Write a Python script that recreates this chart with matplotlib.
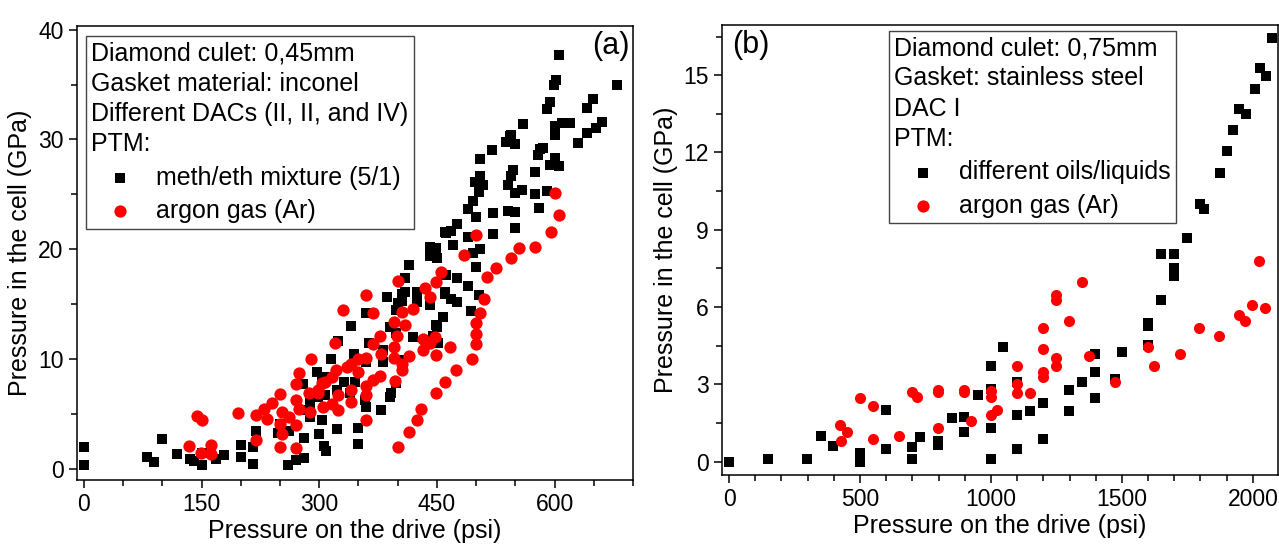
import matplotlib
matplotlib.use('Agg')
import matplotlib.pyplot as plt
import numpy as np
from matplotlib.ticker import MultipleLocator

plt.rcParams['font.family'] = ['Liberation Sans', 'DejaVu Sans']

# (a) culet 0,45mm - (pressure on drive psi, pressure in cell GPa)
a_meth = np.array([
    (0, 2.0), (0, 0.4), (81, 1.1), (90, 0.6), (100, 2.7), (119, 1.4), (135, 0.9), (141, 0.75),
    (150, 1.5), (150, 0.4), (169, 0.9), (179, 1.3), (200, 2.2), (200, 1.1), (215, 0.5), (215, 2.0),
    (220, 3.5), (248, 3.3), (250, 4.1), (262, 3.5), (260, 0.35), (270, 0.8), (280, 1.0), (280, 2.8),
    (300, 3.2), (306, 2.1), (309, 1.6), (323, 3.6), (350, 3.7), (350, 2.3),
    (279, 5.35), (288, 6.0), (288, 4.75), (303, 4.45), (299, 6.55), (307, 6.7), (279, 7.7), (297, 8.8),
    (303, 8.4), (313, 8.4), (315, 10.0), (323, 7.2), (332, 7.9), (339, 6.9), (345, 7.9), (344, 10.5),
    (324, 11.7), (341, 13.0), (358, 6.3), (359, 5.65), (360, 9.7), (364, 11.5), (359, 14.2), (379, 5.35),
    (381, 10.8), (381, 9.7), (387, 15.7), (390, 6.55), (392, 6.9), (390, 12.9), (398, 7.8), (398, 12.4),
    (398, 14.5), (401, 15.1), (405, 15.3), (406, 15.9), (407, 9.9), (409, 16.1), (409, 17.4), (415, 18.6),
    (420, 12.0), (424, 16.1), (425, 15.8), (424, 15.2), (441, 20.2), (441, 19.4), (441, 14.9), (445, 12.1),
    (449, 13.1), (450, 12.9), (450, 19.2), (449, 20.1), (452, 11.5), (458, 13.8), (460, 16.1), (460, 15.9),
    (460, 21.6), (462, 21.5), (462, 17.7), (468, 15.5), (468, 21.7), (470, 20.4), (475, 17.4), (475, 15.2),
    (475, 22.3), (489, 21.1), (490, 23.7), (490, 16.7), (494, 14.4), (496, 24.4), (496, 19.7), (498, 26.1),
    (500, 22.9), (500, 18.4), (503, 25.2), (503, 15.8), (505, 28.2), (505, 26.7), (505, 20.0), (509, 25.9),
    (520, 29.0), (521, 23.3), (522, 21.4), (538, 29.8), (541, 25.9), (540, 23.5), (543, 30.3), (544, 26.7),
    (545, 30.4), (547, 27.2), (549, 29.6), (549, 25.1), (549, 21.9), (550, 23.4), (558, 25.4), (560, 31.4),
    (575, 27.0), (575, 25.0), (579, 28.6), (580, 23.8), (581, 29.1), (585, 29.2), (590, 25.3), (590, 32.8),
    (594, 33.4), (594, 27.7), (599, 35.0), (600, 30.4), (600, 28.3), (600, 31.2), (602, 35.4), (605, 37.7),
    (605, 27.6), (609, 31.5), (619, 31.5), (630, 29.7), (641, 30.6), (641, 32.9), (649, 33.7), (653, 31.0),
    (660, 31.6), (680, 35.0)])

a_argon = np.array([
    (144, 4.8), (150, 4.5), (134, 2.1), (149, 1.5), (162, 2.2), (162, 1.4), (197, 5.1), (219, 4.95),
    (229, 5.5), (233, 4.6), (240, 6.0), (250, 6.8), (219, 2.6), (250, 2.0), (270, 1.9), (252, 5.2),
    (250, 4.1), (252, 3.2), (262, 4.75), (270, 4.0), (270, 6.25), (270, 7.7), (274, 8.7), (289, 10.0),
    (287, 6.9), (288, 5.2), (274, 5.5), (298, 7.2), (304, 7.8), (299, 6.9), (305, 5.65), (316, 5.95),
    (324, 5.35), (324, 6.7), (307, 7.9), (316, 8.4), (322, 9.0), (335, 9.3), (341, 9.6), (350, 10.0),
    (360, 10.1), (350, 8.8), (341, 7.2), (341, 6.1), (320, 11.5), (330, 14.5), (359, 15.8), (369, 14.2),
    (359, 6.7), (359, 7.6), (369, 8.1), (359, 4.5), (377, 8.5), (369, 11.4), (377, 12.1), (379, 10.5),
    (395, 13.35), (399, 12.1), (395, 11.1), (395, 10.1), (405, 14.3), (409, 13.1), (400, 17.1), (415, 10.25),
    (405, 9.6), (405, 9.0), (396, 8.0), (420, 14.6), (435, 16.5), (441, 15.7), (449, 17.0), (455, 17.9),
    (432, 11.85), (432, 10.8), (441, 11.45), (448, 12.0), (467, 11.1), (449, 10.4), (474, 9.0), (460, 7.9),
    (449, 6.9), (430, 5.5), (425, 4.45), (415, 3.4), (400, 2.0), (495, 10.0), (500, 11.4), (500, 12.3),
    (500, 13.3), (505, 14.2), (510, 15.5), (514, 17.5), (525, 18.3), (545, 19.25), (555, 20.15), (575, 20.2),
    (595, 21.6), (605, 23.1), (600, 25.1), (500, 21.3), (485, 19.5)])

# (b) culet 0,75mm
b_oils = np.array([
    (0, 0), (150, 0.09), (299, 0.09), (350, 1.0), (398, 0.6), (500, 0.33), (500, 0.0), (599, 2.0),
    (599, 0.5), (698, 0.58), (698, 0.09), (729, 0.97), (799, 0.78), (799, 0.65), (850, 1.68), (898, 1.71),
    (898, 1.14), (949, 2.59), (999, 3.69), (999, 2.8), (999, 1.3), (999, 0.09), (1045, 4.44), (1098, 3.1),
    (1098, 1.79), (1098, 0.49), (1149, 1.98), (1197, 2.29), (1197, 0.88), (1298, 2.78), (1298, 1.98),
    (1349, 3.08), (1398, 4.18), (1398, 3.49), (1398, 2.48), (1474, 3.2), (1500, 4.27), (1599, 5.37),
    (1599, 5.27), (1599, 4.53), (1649, 6.28), (1698, 7.2), (1699, 7.5), (1649, 8.06), (1699, 8.06),
    (1747, 8.67), (1798, 10.0), (1815, 9.8), (1874, 11.19), (1900, 12.07), (1925, 12.87), (1948, 13.68),
    (1973, 13.48), (2009, 14.46), (2029, 15.27), (2049, 14.97), (2074, 16.46)])

b_argon = np.array([
    (424, 1.4), (449, 1.16), (427, 0.78), (500, 2.48), (548, 2.17), (548, 0.88), (649, 1.0), (698, 2.69),
    (716, 2.5), (799, 2.78), (799, 2.7), (799, 1.3), (898, 2.76), (898, 2.7), (924, 1.58), (999, 2.72),
    (999, 2.5), (999, 1.79), (1022, 2.0), (1098, 3.69), (1098, 3.02), (1098, 2.68), (1149, 2.68),
    (1197, 5.18), (1197, 4.37), (1197, 3.49), (1197, 3.28), (1248, 6.47), (1248, 6.28), (1248, 4.01),
    (1248, 3.69), (1298, 5.47), (1349, 6.96), (1374, 4.08), (1474, 3.07), (1599, 4.46), (1624, 3.69),
    (1722, 4.17), (1796, 5.18), (1872, 4.88), (1947, 5.69), (1970, 5.47), (1997, 6.08), (2023, 7.8),
    (2048, 5.98)])

a_title = "Diamond culet: 0,45mm\nGasket material: inconel\nDifferent DACs (II, II, and IV)\nPTM:"
a_labels = ["meth/eth mixture (5/1)", "argon gas (Ar)"]
b_title = "Diamond culet: 0,75mm\nGasket: stainless steel\nDAC I\nPTM:"
b_labels = ["different oils/liquids", "argon gas (Ar)"]

fig = plt.figure(figsize=(12.79, 5.44), dpi=100)
ax1 = fig.add_axes([0.060, 0.1176, 0.435, 0.834])
ax2 = fig.add_axes([0.5645, 0.127, 0.4345, 0.827])

FS_LAB = 18
FS_TICK = 16.5


def style(ax):
    for s in ax.spines.values():
        s.set_linewidth(1.1)
    ax.tick_params(which='both', direction='out', top=False, right=False,
                   labelsize=FS_TICK, width=1.1)
    ax.tick_params(which='major', length=6)
    ax.tick_params(which='minor', length=4)


def add_legend(ax, title, labels, anchor):
    h1 = ax.scatter([], [], marker='s', s=58, c='black', linewidths=0)
    h2 = ax.scatter([], [], marker='o', s=78, c='#ff0000', linewidths=0)
    leg = ax.legend([h1, h2], labels, title=title, loc='upper left', bbox_to_anchor=anchor,
                    borderaxespad=0, fontsize=FS_LAB, title_fontsize=FS_LAB, alignment='left',
                    fancybox=False, edgecolor='#444444', framealpha=1, borderpad=0.22,
                    handlelength=2.3, handletextpad=0.3, labelspacing=0.38, scatterpoints=1)
    leg.get_frame().set_linewidth(1.0)
    leg.get_title().set_linespacing(1.32)
    return leg


# panel (a)
ax1.scatter(a_meth[:, 0], a_meth[:, 1], marker='s', s=58, c='black', linewidths=0, zorder=3)
ax1.scatter(a_argon[:, 0], a_argon[:, 1], marker='o', s=78, c='#ff0000', linewidths=0, zorder=4)
ax1.set_xlim(-9, 700)
ax1.set_ylim(-1, 40.3)
ax1.xaxis.set_major_locator(MultipleLocator(150))
ax1.xaxis.set_minor_locator(MultipleLocator(50))
ax1.yaxis.set_major_locator(MultipleLocator(10))
ax1.yaxis.set_minor_locator(MultipleLocator(5))
style(ax1)
ax1.set_xlabel('Pressure on the drive (psi)', fontsize=FS_LAB, labelpad=2)
ax1.set_ylabel('Pressure in the cell (GPa)', fontsize=FS_LAB, labelpad=4)
ax1.text(0.993, 0.99, '(a)', transform=ax1.transAxes, ha='right', va='top', fontsize=22)
add_legend(ax1, a_title, a_labels, (0.016, 0.978))

# panel (b)
ax2.scatter(b_oils[:, 0], b_oils[:, 1], marker='s', s=50, c='black', linewidths=0, zorder=3)
ax2.scatter(b_argon[:, 0], b_argon[:, 1], marker='o', s=64, c='#ff0000', linewidths=0, zorder=4)
ax2.set_xlim(-27, 2095)
ax2.set_ylim(-0.52, 16.95)
ax2.xaxis.set_major_locator(MultipleLocator(500))
ax2.xaxis.set_minor_locator(MultipleLocator(100))
ax2.yaxis.set_major_locator(MultipleLocator(3))
ax2.yaxis.set_minor_locator(MultipleLocator(1.5))
style(ax2)
ax2.set_xlabel('Pressure on the drive (psi)', fontsize=FS_LAB, labelpad=2)
ax2.set_ylabel('Pressure in the cell (GPa)', fontsize=FS_LAB, labelpad=4)
ax2.text(0.018, 0.99, '(b)', transform=ax2.transAxes, ha='left', va='top', fontsize=22)
add_legend(ax2, b_title, b_labels, (0.300, 0.987))

fig.savefig('out.png', dpi=100)
